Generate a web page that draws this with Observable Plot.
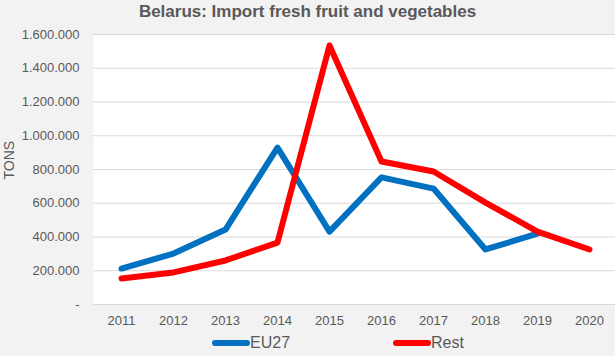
<!DOCTYPE html>
<html>
<head>
<meta charset="utf-8">
<script src="https://cdn.jsdelivr.net/npm/d3@7"></script>
<script src="https://cdn.jsdelivr.net/npm/@observablehq/plot@0.6"></script>
<style>
  html, body { margin: 0; padding: 0; background: #f2f2f2; overflow: hidden; width: 615px; height: 356px; }
  body { font-family: "Liberation Sans", Arial, sans-serif; color: #595959; }
  #title { height: 26px; line-height: 24px; font-size: 17px; font-weight: bold; text-align: center; width: 615px; }
  #chart svg { display: block; }
  #legend { position: relative; height: 28px; font-size: 16px; }
  .item { position: absolute; top: 6px; display: flex; align-items: center; height: 18px; }
  .sw { width: 38px; height: 6px; border-radius: 3px; }
</style>
</head>
<body>
<div id="title">Belarus: Import fresh fruit and vegetables</div>
<div id="chart"></div>
<div id="legend"></div>
<script>
const years = [2011, 2012, 2013, 2014, 2015, 2016, 2017, 2018, 2019, 2020];
const eu27 = [213000, 302000, 444000, 930000, 432000, 753000, 687000, 326000, 420000, null];
const rest = [154000, 190000, 261000, 367000, 1535000, 847000, 788000, 604000, 432000, 326000];
const yTicks = [0, 200000, 400000, 600000, 800000, 1000000, 1200000, 1400000, 1600000];
const seriesNames = ["EU27", "Rest"];
const seriesColors = ["#0070C0", "#FF0000"];
const yLabel = "TONS";

const rows = [];
years.forEach((y, i) => {
  rows.push({year: y, value: eu27[i], series: "EU27"});
});
years.forEach((y, i) => {
  rows.push({year: y, value: rest[i], series: "Rest"});
});

const fmt = d => d === 0 ? "-" : d3.format(",")(d).replace(/,/g, ".");

const chart = Plot.plot({
  width: 615,
  height: 302,
  marginTop: 8,
  marginBottom: 24,
  marginLeft: 93,
  marginRight: 0,
  style: {background: "transparent", color: "#595959", fontFamily: "'Liberation Sans', Arial, sans-serif", fontSize: "13px"},
  x: {type: "point", domain: years, padding: 0.5, range: [93, 617]},
  y: {domain: [0, 1600000]},
  color: {domain: seriesNames, range: seriesColors},
  marks: [
    Plot.frame({fill: "white", stroke: null}),
    Plot.gridY(yTicks, {stroke: "#d9d9d9", strokeOpacity: 1, strokeWidth: 1.2}),
    Plot.axisY(yTicks, {tickSize: 0, tickPadding: 14, tickFormat: fmt, fontSize: 13, label: null}),
    Plot.text([yLabel], {frameAnchor: "left", dx: -84, dy: 10, rotate: -90, fontSize: 14, fill: "#595959"}),
    Plot.axisX(years, {tickSize: 0, tickPadding: 11, tickFormat: d => String(d), fontSize: 13, label: null}),
    Plot.lineY(rows.filter(d => d.series === "EU27" && d.value != null), {x: "year", y: "value", stroke: "series", strokeWidth: 6, strokeLinejoin: "round", strokeLinecap: "round"}),
    Plot.lineY(rows.filter(d => d.series === "Rest" && d.value != null), {x: "year", y: "value", stroke: "series", strokeWidth: 6, strokeLinejoin: "round", strokeLinecap: "round"})
  ]
});
document.getElementById("chart").appendChild(chart);

const legend = document.getElementById("legend");
const lefts = [212, 393];
seriesNames.forEach((n, i) => {
  const it = document.createElement("div");
  it.className = "item";
  it.style.left = lefts[i] + "px";
  const sw = document.createElement("div");
  sw.className = "sw";
  sw.style.background = seriesColors[i];
  const t = document.createElement("span");
  t.textContent = n;
  it.appendChild(sw);
  it.appendChild(t);
  legend.appendChild(it);
});
</script>
</body>
</html>
